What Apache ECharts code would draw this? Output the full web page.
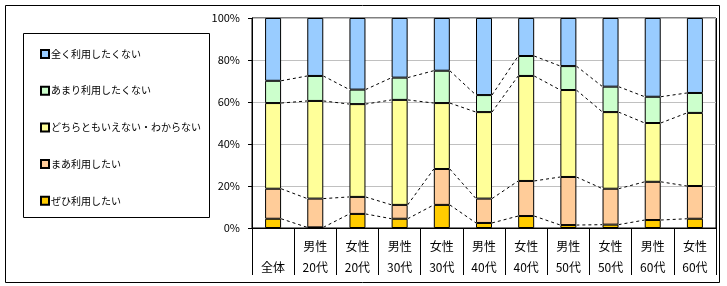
<!DOCTYPE html>
<html>
<head>
<meta charset="utf-8">
<script src="https://cdn.jsdelivr.net/npm/echarts@6/dist/echarts.min.js"></script>
<style>
html, body { margin: 0; padding: 0; background: #fff; }
#main { width: 727px; height: 286px; }
</style>
</head>
<body>
<div id="main"></div>
<script>
var categories = ["\n全体", "男性\n20代", "女性\n20代", "男性\n30代", "女性\n30代", "男性\n40代",
    "女性\n40代", "男性\n50代", "女性\n50代", "男性\n60代", "女性\n60代"];

// 下から順に積み上げ (%)
var zehi   = [4.4, 0.3, 6.7, 4.4, 11.0, 2.4, 5.7, 1.4, 1.6, 3.8, 4.4];
var maa    = [14.3, 13.7, 8.1, 6.6, 17.1, 11.6, 16.7, 22.9, 17.1, 18.2, 15.6];
var dochira = [40.8, 46.5, 44.2, 50.0, 31.4, 41.2, 50.0, 41.4, 36.5, 28.0, 34.8];
var amari  = [10.6, 11.9, 6.9, 10.6, 15.4, 8.1, 9.5, 11.4, 12.1, 12.5, 9.5];
var mattaku = [29.9, 27.6, 34.1, 28.4, 25.1, 36.7, 18.1, 22.9, 32.7, 37.5, 35.7];

var seriesNames = ["ぜひ利用したい", "まあ利用したい", "どちらともいえない・わからない", "あまり利用したくない", "全く利用したくない"];
var seriesColors = ["#FFCC00", "#FFCC99", "#FFFF99", "#CCFFCC", "#99CCFF"];
var seriesData = [zehi, maa, dochira, amari, mattaku];
var yTicks = [0, 20, 40, 60, 80, 100];

var font = "'Noto Sans CJK JP', sans-serif";
var barWidth = 16;

// 区切り線用の累積値
var cumulative = [];
for (var i = 0; i < categories.length; i++) {
    var sum = 0, row = [];
    for (var s = 0; s < 4; s++) {
        sum += seriesData[s][i];
        row.push(sum);
    }
    cumulative.push(row);
}

var series = [];
for (var s = 0; s < seriesData.length; s++) {
    series.push({
        name: seriesNames[s],
        type: "bar",
        stack: "total",
        barWidth: barWidth,
        data: seriesData[s],
        itemStyle: { color: seriesColors[s], borderColor: "#000", borderWidth: 1 },
        emphasis: { disabled: true },
        z: 3
    });
}

var pairs = [];
for (var i = 0; i < categories.length - 1; i++) pairs.push([i]);

series.push({
    type: "custom",
    silent: true,
    z: 2,
    data: pairs,
    encode: { x: 0 },
    renderItem: function (params, api) {
        var i = api.value(0);
        var children = [];
        for (var k = 0; k < 4; k++) {
            var p1 = api.coord([i, cumulative[i][k]]);
            var p2 = api.coord([i + 1, cumulative[i + 1][k]]);
            children.push({
                type: "line",
                shape: { x1: p1[0] + barWidth / 2, y1: p1[1], x2: p2[0] - barWidth / 2, y2: p2[1] },
                style: { stroke: "#000", lineWidth: 1, lineDash: [3, 3] }
            });
        }
        return { type: "group", children: children };
    }
});

var chart = echarts.init(document.getElementById("main"));
chart.setOption({
    animation: false,
    backgroundColor: "#fff",
    textStyle: { fontFamily: font, color: "#000" },
    grid: {
        left: 252, top: 18, right: 11, bottom: 58,
        show: true, borderColor: "#000", borderWidth: 1, backgroundColor: "transparent"
    },
    legend: {
        orient: "vertical",
        left: 35, top: 44,
        itemWidth: 8, itemHeight: 8, itemGap: 26.7,
        icon: "rect",
        data: seriesNames.slice().reverse(),
        textStyle: { fontFamily: font, fontSize: 10, color: "#000", padding: [0, 0, 0, -3] }
    },
    xAxis: {
        type: "category",
        data: categories,
        axisLine: { lineStyle: { color: "#000" } },
        axisTick: { show: true, interval: 0, length: 47, lineStyle: { color: "#000" } },
        axisLabel: { interval: 0, fontFamily: font, fontSize: 12, lineHeight: 21, margin: 8, color: "#000" },
        splitLine: {
            show: true,
            interval: function (index) { return index === 1; },
            lineStyle: { color: "#000" }
        }
    },
    yAxis: {
        type: "value",
        min: yTicks[0], max: yTicks[yTicks.length - 1], interval: 20,
        axisLine: { show: true, lineStyle: { color: "#000" } },
        axisTick: { show: true, length: 4, lineStyle: { color: "#000" } },
        axisLabel: { formatter: "{value}%", fontFamily: font, fontSize: 11, margin: 12, color: "#000" },
        splitLine: { lineStyle: { color: "#C0C0C0" } }
    },
    graphic: [
        { type: "rect", z: -1, shape: { x: 5.5, y: 5.5, width: 714, height: 277 },
          style: { fill: "none", stroke: "#000", lineWidth: 1 } },
        { type: "rect", z: -1, shape: { x: 23.5, y: 33.5, width: 186, height: 184 },
          style: { fill: "none", stroke: "#000", lineWidth: 1 } }
    ],
    series: series
});
</script>
</body>
</html>
